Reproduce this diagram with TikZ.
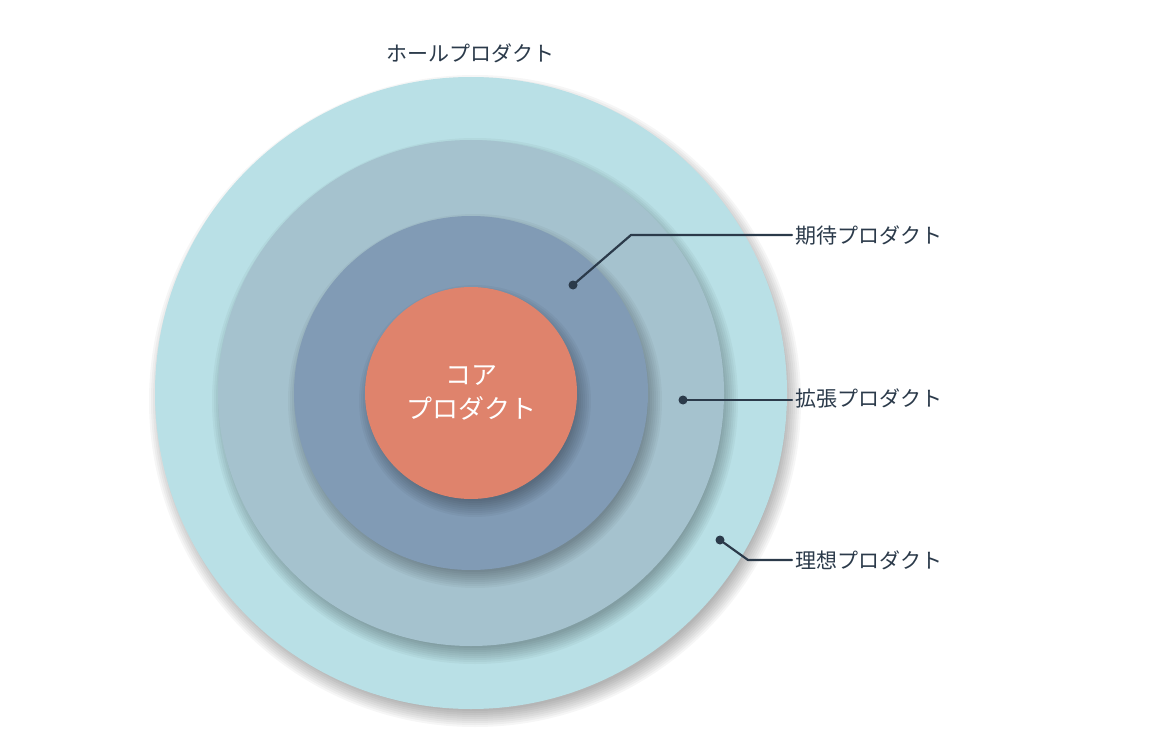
\documentclass[tikz,border=0pt]{standalone}
\usepackage{fontspec}
\setmainfont{Noto Sans CJK JP}
\definecolor{ideal}{HTML}{B9E0E6}
\definecolor{augment}{HTML}{A5C2CE}
\definecolor{expect}{HTML}{819BB5}
\definecolor{core}{HTML}{DF836C}
\definecolor{ink}{HTML}{2B3A4A}
\tikzset{
  ring/.style={circle, inner sep=0pt, minimum size=#1},
  tag/.style={anchor=west, text=ink, font=\fontsize{21}{25}\selectfont},
  lead/.style={draw=ink, line width=2.2pt},
  dot/.style={circle, fill=ink, inner sep=0pt, minimum size=9pt}
}
% soft shadow below a circle of radius #1
\newcommand{\softshadow}[1]{%
  \foreach \g in {0,2,...,16}
    \fill[black, opacity=0.035] (475,401) circle ({#1+\g-6});}
\begin{document}
\begin{tikzpicture}[x=1pt, y=-1pt, line join=round, line cap=round]
	\useasboundingbox[fill=white] (0,0) rectangle (1160,749);
	\softshadow{316}
	\node[ring=632pt, fill=ideal] (whole) at (471,393) {};
	\softshadow{253}
	\node[ring=506pt, fill=augment] (aug) at (471,393) {};
	\softshadow{177}
	\node[ring=354pt, fill=expect] (exp) at (471,393) {};
	\softshadow{106}
	\node[ring=212pt, fill=core, text=white, align=center,
	  font=\fontsize{26}{34}\selectfont] (core) at (471,393) {コア\\プロダクト};
	\node[text=ink, font=\fontsize{21}{25}\selectfont] (wholelbl) at (470,53) {ホールプロダクト};
	% leaders
	\node[dot] (d1) at (573,285) {};
	\node[dot] (d2) at (683,400) {};
	\node[dot] (d3) at (720,540) {};
	\node[tag] (t1) at (792,235) {期待プロダクト};
	\node[tag] (t2) at (792,398) {拡張プロダクト};
	\node[tag] (t3) at (792,560) {理想プロダクト};
	\draw[lead] (d1.center) -- (631,235) -- (t1.west);
	\draw[lead] (d2.center) -- (t2.west |- d2.center);
	\draw[lead] (d3.center) -- (748,560) -- (t3.west);
\end{tikzpicture}
\end{document}
